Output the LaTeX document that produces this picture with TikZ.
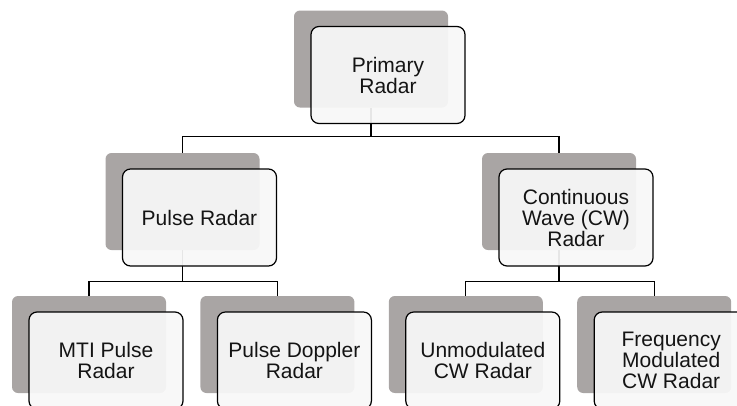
\documentclass[tikz,border=0pt]{standalone}
\usepackage{fontspec}
\setmainfont{Liberation Sans}
\usetikzlibrary{positioning, backgrounds}

\definecolor{backgray}{RGB}{169,165,164}
\definecolor{frontfill}{RGB}{248,248,248}
\definecolor{textcol}{RGB}{20,20,20}

\begin{document}
\begin{tikzpicture}[x=1pt, y=1pt, node distance=34pt,
	back/.style={fill=backgray, rounded corners=6pt, minimum width=154pt, minimum height=97pt, inner sep=0pt},
	front/.style={draw=black, line width=1.2pt, fill=frontfill, fill opacity=0.93, text opacity=1, rounded corners=8pt,
		minimum width=154pt, minimum height=97pt, inner sep=0pt, align=center, text=textcol,
		font=\fontsize{21}{21}\selectfont},
	link/.style={draw=black, line width=1.1pt}]
	\clip (0,0) rectangle (737,-405);
	% top level
	\node[back] (prb) at (371,-59) {};
	\node[front] (pr) at ([shift={(17pt,-16pt)}]prb.center) {Primary\\Radar};
	% second level
	\node[back] (pub) at (182.5,-201.5) {};
	\node[front] (pu) at ([shift={(17pt,-16pt)}]pub.center) {Pulse Radar};
	\node[back] (cwb) at (559,-201.5) {};
	\node[front] (cw) at ([shift={(17pt,-16pt)}]cwb.center) {Continuous\\Wave (CW)\\Radar};
	% third level
	\node[back] (mtib) at (89,-344.5) {};
	\node[back, right=of mtib] (pdb) {};
	\node[back, right=of pdb] (umb) {};
	\node[back, right=of umb] (fmb) {};
	\node[front] (mti) at ([shift={(17pt,-16pt)}]mtib.center) {MTI Pulse\\Radar};
	\node[front] (pd) at ([shift={(17pt,-16pt)}]pdb.center) {Pulse Doppler\\Radar};
	\node[front] (um) at ([shift={(17pt,-16pt)}]umb.center) {Unmodulated\\CW Radar};
	\node[front] (fm) at ([shift={(17pt,-16pt)}]fmb.center) {Frequency\\Modulated\\CW Radar};
	% connectors
	\begin{scope}[on background layer]
		\draw[link] (prb.south) -- ++(0,-29) coordinate (j1);
		\draw[link] (j1) -| (pub.north);
		\draw[link] (j1) -| (cwb.north);
		\draw[link] (pub.south) -- ++(0,-31.5) coordinate (j2);
		\draw[link] (j2) -| (mtib.north);
		\draw[link] (j2) -| (pdb.north);
		\draw[link] (cwb.south) -- ++(0,-31.5) coordinate (j3);
		\draw[link] (j3) -| (umb.north);
		\draw[link] (j3) -| (fmb.north);
	\end{scope}
\end{tikzpicture}
\end{document}
